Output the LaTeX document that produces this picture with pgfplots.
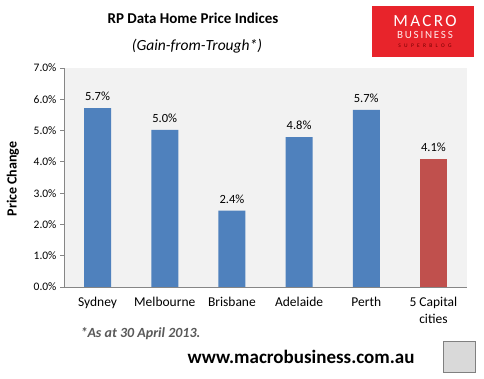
\documentclass[border=0pt]{standalone}
\usepackage{pgfplots}
\pgfplotsset{compat=1.18}
\usepackage{fontspec}
\setmainfont{Carlito}
\definecolor{barblue}{HTML}{4F81BD}
\definecolor{barred}{HTML}{C0504D}
\definecolor{axgray}{HTML}{868686}
\definecolor{bggray}{HTML}{F2F2F2}
\definecolor{logored}{HTML}{E8242B}
\begin{document}
\begin{tikzpicture}[x=1pt,y=1pt]
\useasboundingbox (0,0) rectangle (484,379);
\begin{axis}[
  at={(64pt,92pt)}, anchor=south west,
  width=403pt, height=219pt, scale only axis,
  xmin=-0.5, xmax=5.5, ymin=0, ymax=7,
  axis lines*=left,
  axis line style={axgray, line width=0.8pt},
  axis background/.style={fill=bggray},
  tick align=outside,
  tick style={axgray, line width=0.8pt},
  major tick length=4pt,
  ytick={0,1,...,7},
  yticklabel={\pgfmathprintnumber[fixed,fixed zerofill,precision=1]{\tick}\%},
  /pgf/number format/assume math mode=true,
  xtick={0,...,5},
  xticklabels={Sydney,Melbourne,Brisbane,Adelaide,Perth,{5 Capital\\cities}},
  x tick label style={align=center, font=\fontsize{13.5}{16.5}\selectfont, yshift=-3pt},
  y tick label style={font=\fontsize{11.5}{13}\selectfont},
  x tick style={draw=none},
  extra x ticks={-0.5,0.5,1.5,2.5,3.5,4.5,5.5},
  extra x tick labels={},
  extra x tick style={tick style={axgray, line width=0.8pt, draw=axgray}, major tick length=4pt},
  ybar, bar width=27pt,
  nodes near coords={\pgfmathprintnumber[fixed,fixed zerofill,precision=1]{\pgfplotspointmeta}\%},
  nodes near coords style={font=\fontsize{12.5}{14}\selectfont, anchor=south, yshift=4pt, /pgf/number format/assume math mode=true},
  clip=false,
]
\addplot[fill=barblue, draw=none, bar shift=0pt] coordinates {(0,5.72) (1,5.02) (2,2.44) (3,4.79) (4,5.66)};
\addplot[fill=barred, draw=none, bar shift=0pt] coordinates {(5,4.09)};
\end{axis}
% y label
\node[rotate=90, font=\fontsize{14}{16}\selectfont\bfseries] at (13,200) {Price Change};
% titles
\node[font=\fontsize{15}{18}\selectfont\bfseries] at (193,361) {RP Data Home Price Indices};
\node[font=\fontsize{15.5}{18}\selectfont\itshape] at (197,333) {(Gain-from-Trough*)};
% logo
\fill[logored] (372,322) rectangle (474,373);
\node[white, inner sep=0pt, font=\fontsize{17}{18}\selectfont\addfontfeatures{LetterSpace=14}] at (425,357.5) {MACRO};
\node[white!92!red, inner sep=0pt, font=\fontsize{11}{12}\selectfont\addfontfeatures{LetterSpace=16}] at (425,344) {BUSINESS};
\node[red!45!black, inner sep=0pt, font=\fontsize{5.5}{6}\selectfont\addfontfeatures{LetterSpace=60}] at (425,333.5) {SUPERBLOG};
% footnotes
\node[anchor=west, font=\fontsize{14}{16}\selectfont\bfseries\itshape, text=black!65] at (77,45) {*As at 30 April 2013.};
\node[font=\fontsize{19}{22}\selectfont\bfseries] at (301,22) {www.macrobusiness.com.au};
% wolf placeholder
\draw[gray, fill=black!15, line width=0.8pt] (443,7) rectangle (475,38);
\end{tikzpicture}
\end{document}
